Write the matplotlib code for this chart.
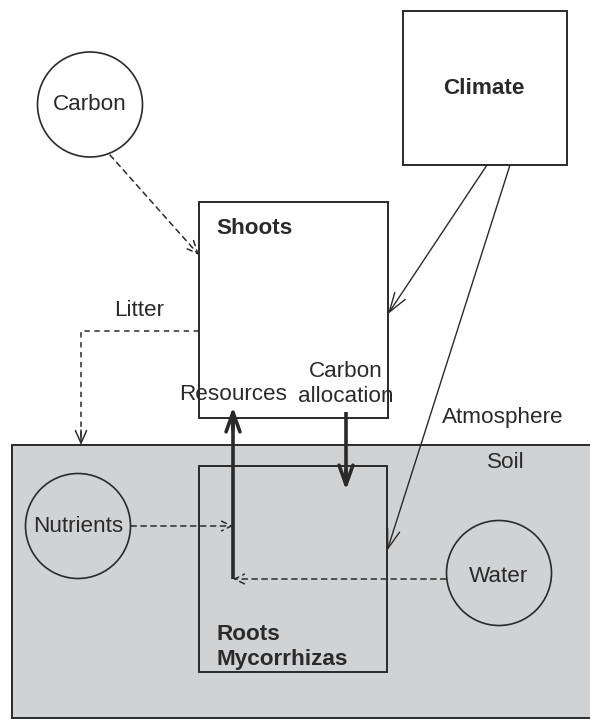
import matplotlib
matplotlib.use("Agg")
import matplotlib.pyplot as plt
from matplotlib.patches import Rectangle, Circle, FancyArrowPatch

plt.rcParams['font.family'] = ['Liberation Sans', 'DejaVu Sans']

# Text content
box_labels = ["Shoots", "Climate", "Roots\nMycorrhizas"]
circle_labels = ["Carbon", "Nutrients", "Water"]
flow_labels = ["Litter", "Resources", "Carbon\nallocation", "Atmosphere", "Soil"]

INK = "#2a2a2a"
SOIL = "#d1d2d4"

fig = plt.figure(figsize=(5.90, 7.26), dpi=100)
ax = fig.add_axes([0, 0, 1, 1])
ax.set_xlim(0, 590)
ax.set_ylim(726, 0)
ax.axis("off")

# Soil region
ax.add_patch(Rectangle((12, 445), 600, 273, facecolor=SOIL, edgecolor=INK, lw=1.4, zorder=1))

# Boxes
ax.add_patch(Rectangle((199, 202), 189, 216, facecolor="white", edgecolor=INK, lw=1.4, zorder=2))
ax.add_patch(Rectangle((403, 11), 164, 154, facecolor="white", edgecolor=INK, lw=1.4, zorder=2))
ax.add_patch(Rectangle((199, 466), 188, 206, facecolor="none", edgecolor=INK, lw=1.4, zorder=2))

# Circles
for (cx, cy) in [(90, 104.5), (78, 526), (499, 573)]:
    fc = "white" if cy < 200 else "none"
    ax.add_patch(Circle((cx, cy), 52.5, facecolor=fc, edgecolor=INK, lw=1.2, zorder=2))

fs = 16.2
ax.text(216, 229, box_labels[0], fontsize=fs, fontweight="bold", color=INK, ha="left", va="center", zorder=5)
ax.text(484, 89, box_labels[1], fontsize=fs, fontweight="bold", color=INK, ha="center", va="center", zorder=5)
ax.text(216, 647, box_labels[2], fontsize=fs, fontweight="bold", color=INK, ha="left", va="center",
        linespacing=1.2, zorder=5)

ax.text(90, 105, circle_labels[0], fontsize=fs, color=INK, ha="center", va="center", zorder=5)
ax.text(78, 527, circle_labels[1], fontsize=fs, color=INK, ha="center", va="center", zorder=5)
ax.text(499, 577, circle_labels[2], fontsize=fs, color=INK, ha="center", va="center", zorder=5)

ax.text(139, 311, flow_labels[0], fontsize=fs, color=INK, ha="center", va="center", zorder=5)
ax.text(233, 395, flow_labels[1], fontsize=fs, color=INK, ha="center", va="center", zorder=5)
ax.text(346, 384, flow_labels[2], fontsize=fs, color=INK, ha="center", va="center",
        linespacing=1.2, zorder=5)
ax.text(503, 417, flow_labels[3], fontsize=fs, color=INK, ha="center", va="center", zorder=5)
ax.text(506, 463, flow_labels[4], fontsize=fs, color=INK, ha="center", va="center", zorder=5)


def arrow(p0, p1, lw=1.0, ls="-", hl=8, hw=4, z=4):
    a = FancyArrowPatch(p0, p1, arrowstyle=f"->,head_length={hl/10:.2f},head_width={hw/10:.2f}",
                        lw=lw, ls=ls, color=INK, shrinkA=0, shrinkB=0,
                        mutation_scale=10, zorder=z)
    ax.add_patch(a)

dash = (0, (3.5, 3))

# Carbon -> Shoots
arrow((110, 155), (199, 255), lw=1.1, ls=dash, hl=9, hw=4)
# Climate -> Shoots
arrow((487, 165), (388, 314), lw=1.0, hl=14, hw=4.5)
# Climate -> Roots
arrow((510, 165), (387, 551), lw=1.0, hl=14, hw=4.5)
# Litter
ax.plot([199, 81, 81], [331, 331, 440], color=INK, lw=1.1, ls=dash, zorder=4)
arrow((81, 430), (81, 445), lw=1.1, hl=9, hw=4)
# Nutrients -> roots
arrow((131, 526), (233, 526), lw=1.1, ls=dash, hl=7, hw=3.5)
# Water -> roots
arrow((446, 579), (233, 579), lw=1.1, ls=dash, hl=7, hw=3.5)
# Resources (thick up)
ax.plot([233, 233], [579, 420], color=INK, lw=2.6, zorder=4, solid_capstyle="butt")
arrow((233, 430), (233, 407), lw=2.6, hl=14, hw=5)
# Carbon allocation (thick down)
ax.plot([346, 346], [412, 480], color=INK, lw=2.6, zorder=4, solid_capstyle="butt")
arrow((346, 470), (346, 490), lw=2.6, hl=14, hw=5)

fig.savefig("out.png", dpi=100, facecolor="white")
